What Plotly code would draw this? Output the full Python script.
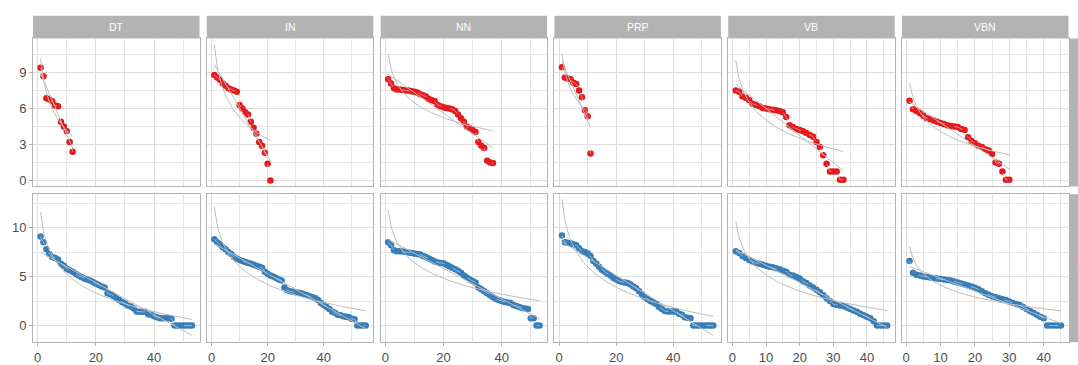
import numpy as np
import plotly.graph_objects as go

categories = ["DT", "IN", "NN", "PRP", "VB", "VBN"]
row_labels = ["L1", "L2"]

# top row (red)
dt_top = [9.4, 8.7, 6.85, 6.75, 6.6, 6.25, 6.2, 4.9, 4.5, 4.1, 3.2, 2.4]
in_top = [8.8, 8.6, 8.4, 8.1, 7.9, 7.7, 7.6, 7.5, 7.4, 6.3, 6.0, 5.7, 5.5, 4.9, 4.4,
          3.9, 3.2, 2.9, 2.3, 1.4, 0.0]
nn_top = [8.45, 8.1, 7.7, 7.6, 7.6, 7.55, 7.5, 7.5, 7.45, 7.4, 7.35, 7.2, 7.1, 7.0,
          6.8, 6.7, 6.6, 6.3, 6.2, 6.1, 6.05, 6.0, 5.95, 5.8, 5.5, 5.2, 4.9, 4.5,
          4.35, 4.2, 4.05, 3.2, 2.9, 2.7, 1.65, 1.5, 1.45]
prp_top = [9.45, 8.6, 8.5, 8.45, 8.15, 8.05, 7.5, 6.95, 5.85, 5.35, 2.25]
vb_top = [7.5, 7.4, 7.0, 6.9, 6.7, 6.4, 6.3, 6.2, 6.05, 6.0, 5.95, 5.9, 5.85, 5.8,
          5.7, 5.3, 4.6, 4.45, 4.3, 4.2, 4.1, 3.95, 3.8, 3.65, 3.2, 2.8, 2.1, 1.4,
          0.75, 0.75, 0.75, 0.05, 0.05]
vbn_top = [6.65, 5.95, 5.8, 5.6, 5.4, 5.2, 5.1, 5.0, 4.9, 4.8, 4.7, 4.6, 4.55, 4.5,
           4.45, 4.3, 4.2, 3.6, 3.3, 3.1, 2.9, 2.8, 2.6, 2.5, 2.2, 1.5, 1.4, 0.75,
           0.05, 0.05]

# bottom row (blue)
dt_bot = [9.1, 8.5, 7.8, 7.3, 7.0, 6.9, 6.75, 6.3, 6.1, 5.8, 5.65, 5.5, 5.3, 5.1,
          4.95, 4.8, 4.7, 4.6, 4.45, 4.3, 4.15, 4.0, 3.9, 3.3, 3.2, 3.05, 2.8, 2.6,
          2.4, 2.25, 2.05, 1.95, 1.75, 1.45, 1.4, 1.4, 1.4, 1.15, 1.1, 0.95, 0.85,
          0.75, 0.75, 0.75, 0.75, 0.7, 0.0, 0.0, 0.0, 0.0, 0.0, 0.0, 0.0]
in_bot = [8.8, 8.5, 8.3, 8.0, 7.8, 7.5, 7.3, 7.0, 6.85, 6.7, 6.6, 6.5, 6.4, 6.3,
          6.2, 6.1, 6.0, 5.9, 5.5, 5.3, 5.1, 5.0, 4.85, 4.7, 4.6, 3.9, 3.6, 3.5,
          3.45, 3.4, 3.35, 3.3, 3.2, 3.1, 3.0, 2.9, 2.8, 2.6, 2.3, 2.1, 1.9, 1.7,
          1.4, 1.3, 1.1, 1.05, 0.95, 0.9, 0.85, 0.7, 0.65, 0.0, 0.0, 0.0, 0.0]
nn_bot = [8.5, 8.2, 7.7, 7.6, 7.6, 7.55, 7.5, 7.45, 7.4, 7.35, 7.3, 7.25, 7.1, 7.0,
          6.85, 6.7, 6.55, 6.45, 6.4, 6.35, 6.2, 6.05, 5.9, 5.75, 5.6, 5.4, 5.1,
          4.9, 4.7, 4.55, 4.4, 3.9, 3.7, 3.5, 3.3, 3.1, 2.9, 2.75, 2.6, 2.5, 2.4,
          2.35, 2.3, 2.1, 2.0, 1.9, 1.8, 1.75, 1.7, 0.75, 0.75, 0.0, 0.0]
prp_bot = [9.2, 8.5, 8.45, 8.4, 8.3, 8.2, 7.9, 7.6, 7.5, 7.35, 7.1, 6.6, 6.3, 6.0,
           5.7, 5.5, 5.3, 5.1, 4.85, 4.7, 4.55, 4.45, 4.4, 4.35, 4.2, 4.0, 3.8, 3.5,
           3.2, 2.9, 2.7, 2.5, 2.35, 2.2, 1.9, 1.7, 1.5, 1.45, 1.45, 1.45, 1.45,
           1.2, 1.1, 0.85, 0.8, 0.75, 0.0, 0.0, 0.0, 0.0, 0.0, 0.0, 0.0, 0.0]
vb_bot = [7.6, 7.4, 7.1, 6.9, 6.7, 6.55, 6.4, 6.3, 6.2, 6.1, 6.0, 5.95, 5.85, 5.75,
          5.6, 5.5, 5.2, 5.1, 4.95, 4.8, 4.5, 4.35, 4.1, 3.9, 3.65, 3.4, 3.1, 2.8,
          2.5, 2.2, 2.1, 2.05, 2.0, 1.85, 1.7, 1.55, 1.4, 1.2, 1.05, 0.9, 0.75,
          0.45, 0.0, 0.0, 0.0, 0.0]
vbn_bot = [6.6, 5.4, 5.2, 5.1, 5.0, 4.95, 4.9, 4.85, 4.8, 4.75, 4.7, 4.65, 4.6, 4.5,
           4.4, 4.3, 4.2, 4.1, 4.0, 3.85, 3.7, 3.5, 3.3, 3.15, 3.0, 2.9, 2.8, 2.7,
           2.6, 2.45, 2.3, 2.2, 2.1, 1.9, 1.7, 1.5, 1.3, 1.1, 0.9, 0.75, 0.0, 0.0,
           0.0, 0.0, 0.0]

top_series = [dt_top, in_top, nn_top, prp_top, vb_top, vbn_top]
bot_series = [dt_bot, in_bot, nn_bot, prp_bot, vb_bot, vbn_bot]
row_colors = ["#E41A1C", "#377EB8"]
row_dash_colors = ["rgba(255,255,255,0.45)", "rgba(255,255,255,0.45)"]

x_major = [20, 20, 20, 20, 10, 10]
y_major = [3, 5]
y_ranges = [[-0.5, 11.85], [-1.7, 13.4]]

W, H = 1078, 365
col_left0, col_step, col_w = 33.0, 173.8, 166.5
row_px = [(39.0, 189.0), (197.0, 347.0)]

FONT = "Liberation Sans, Arial, sans-serif"
GRID = "#DEDEDE"
BORDER = "#B3B3B3"
FIT = "#BDBDBD"

fig = go.Figure()
layout = dict()
shapes = []
annotations = []

for r, series in enumerate([top_series, bot_series]):
    for c in range(6):
        idx = r * 6 + c + 1
        xs = "x" if idx == 1 else f"x{idx}"
        ys = "y" if idx == 1 else f"y{idx}"
        y = np.array(series[c], dtype=float)
        x = np.arange(1, len(y) + 1, dtype=float)
        fig.add_trace(go.Scatter(x=x, y=y, mode="markers",
                                 marker=dict(color=row_colors[r], size=6.5),
                                 xaxis=xs, yaxis=ys, showlegend=False))
        fig.add_trace(go.Scatter(x=x, y=y, mode="lines",
                                 line=dict(color=row_dash_colors[r], width=1, dash="dash"),
                                 xaxis=xs, yaxis=ys, showlegend=False))
        xf = np.linspace(1, len(y), 120)
        b1, a1 = np.polyfit(x, y, 1)
        b2, a2 = np.polyfit(np.log(x), y, 1)
        fig.add_trace(go.Scatter(x=xf, y=a1 + b1 * xf, mode="lines",
                                 line=dict(color=FIT, width=1),
                                 xaxis=xs, yaxis=ys, showlegend=False))
        fig.add_trace(go.Scatter(x=xf, y=a2 + b2 * np.log(xf), mode="lines",
                                 line=dict(color=FIT, width=1),
                                 xaxis=xs, yaxis=ys, showlegend=False))

for r in range(2):
    for c in range(6):
        idx = r * 6 + c + 1
        nmax = max(len(top_series[c]), len(bot_series[c]))
        span = nmax - 1
        xr = [1 - 0.05 * span, nmax + 0.05 * span]
        left = col_left0 + c * col_step
        x0, x1 = left / W, (left + col_w) / W
        t, b = row_px[r]
        y0, y1 = 1 - b / H, 1 - t / H
        xkey = "xaxis" if idx == 1 else f"xaxis{idx}"
        ykey = "yaxis" if idx == 1 else f"yaxis{idx}"
        xa = "x" if idx == 1 else f"x{idx}"
        ya = "y" if idx == 1 else f"y{idx}"
        layout[xkey] = dict(domain=[x0, x1], anchor=ya, range=xr,
                            tickmode="linear", tick0=0, dtick=x_major[c],
                            showgrid=True, gridcolor=GRID, gridwidth=1,
                            minor=dict(dtick=x_major[c] / 2, tick0=0, showgrid=True,
                                       gridcolor="#E6E6E6", gridwidth=0.7),
                            zeroline=False, showline=True, mirror=True,
                            linecolor=BORDER, linewidth=1,
                            ticks="outside" if r == 1 else "", ticklen=3,
                            tickcolor=BORDER,
                            showticklabels=(r == 1),
                            tickfont=dict(family=FONT, size=13, color="#4D4D4D"))
        layout[ykey] = dict(domain=[y0, y1], anchor=xa, range=y_ranges[r],
                            tickmode="linear", tick0=0, dtick=y_major[r],
                            showgrid=True, gridcolor=GRID, gridwidth=1,
                            minor=dict(dtick=y_major[r] / 2, tick0=0, showgrid=True,
                                       gridcolor="#E6E6E6", gridwidth=0.7),
                            zeroline=False, showline=True, mirror=True,
                            linecolor=BORDER, linewidth=1,
                            ticks="outside" if c == 0 else "", ticklen=3,
                            tickcolor=BORDER,
                            showticklabels=(c == 0),
                            tickfont=dict(family=FONT, size=13, color="#4D4D4D"))

# top strips
for c, name in enumerate(categories):
    left = col_left0 + c * col_step
    shapes.append(dict(type="rect", xref="paper", yref="paper",
                       x0=left / W, x1=(left + col_w) / W,
                       y0=1 - 39 / H, y1=1 - 16 / H,
                       fillcolor="#B3B3B3", line=dict(width=0), layer="below"))
    annotations.append(dict(text=name, xref="paper", yref="paper",
                            x=(left + col_w / 2) / W, y=1 - 27.5 / H,
                            showarrow=False, xanchor="center", yanchor="middle",
                            font=dict(family=FONT, size=10.5, color="white")))

# right strips (partly outside the visible canvas, as in the reference)
for r, lab in enumerate(row_labels):
    t, b = row_px[r]
    shapes.append(dict(type="rect", xref="paper", yref="paper",
                       x0=1070 / W, x1=1095 / W, y0=1 - b / H, y1=1 - t / H,
                       fillcolor="#B3B3B3", line=dict(width=0), layer="below"))
    annotations.append(dict(text=lab, xref="paper", yref="paper",
                            x=1082 / W, y=1 - (t + b) / 2 / H, textangle=90,
                            showarrow=False, xanchor="center", yanchor="middle",
                            font=dict(family=FONT, size=10, color="white")))

fig.update_layout(width=W, height=H, margin=dict(l=0, r=0, t=0, b=0),
                  paper_bgcolor="white", plot_bgcolor="white",
                  shapes=shapes, annotations=annotations, showlegend=False,
                  **layout)

fig.write_html("out.html")
